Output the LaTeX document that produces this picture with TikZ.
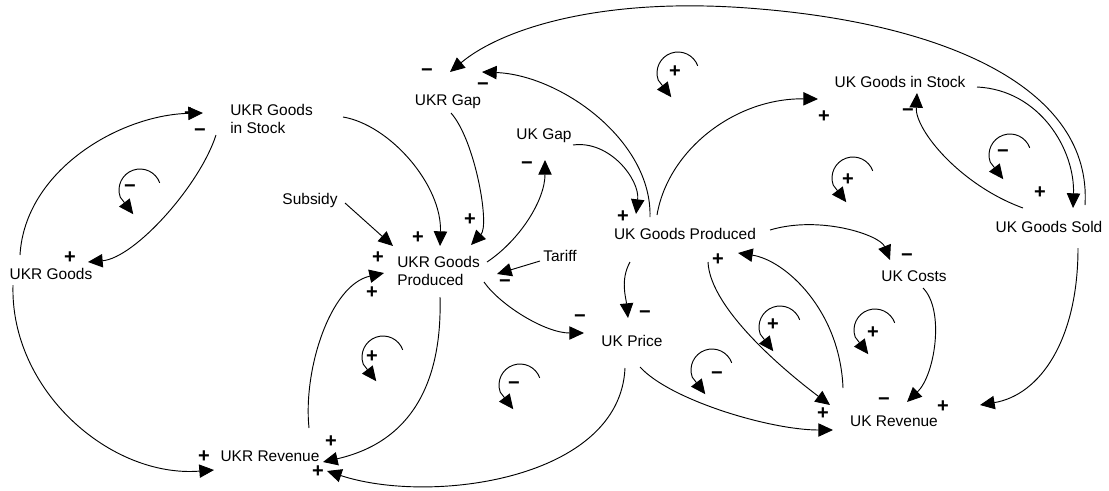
\documentclass[tikz,border=0pt]{standalone}
\usepackage{fontspec}
\setmainfont{Liberation Sans}
\usetikzlibrary{arrows.meta}
\tikzset{
  var/.style={font=\fontsize{11.6}{13.1}\selectfont, inner sep=0pt},
  link/.style={line width=0.7pt, -{Triangle[length=11pt,width=10pt]}},
  pol/.style={font=\fontsize{15}{15}\selectfont\bfseries, inner sep=0pt},
}
\begin{document}
\begin{tikzpicture}[x=0.75pt,y=-0.75pt]
  \useasboundingbox (0,0) rectangle (1109,490);
  % variables
  \node[var,anchor=base] (ukrsold) at (51,279) {UKR Goods};
  \node[var,anchor=west,align=left] (ukrstock) at (230,119) {UKR Goods\\in Stock};
  \node[var,anchor=base] (ukrgap) at (448,105) {UKR Gap};
  \node[var,anchor=base] (ukgap) at (544,139) {UK Gap};
  \node[var,anchor=base] (subsidy) at (310,204) {Subsidy};
  \node[var,anchor=west,align=left] (ukrprod) at (397,271) {UKR Goods\\Produced};
  \node[var,anchor=base] (tariff) at (560,261) {Tariff};
  \node[var,anchor=base] (ukprod) at (685,239) {UK Goods Produced};
  \node[var,anchor=base] (ukstock) at (900,87) {UK Goods in Stock};
  \node[var,anchor=base] (uksold) at (1049,232) {UK Goods Sold};
  \node[var,anchor=base] (ukcosts) at (914,281) {UK Costs};
  \node[var,anchor=base] (ukprice) at (632,346) {UK Price};
  \node[var,anchor=base] (ukrev) at (894,426) {UK Revenue};
  \node[var,anchor=base] (ukrrev) at (270,461) {UKR Revenue};
  % link polarities
  \foreach \px/\py/\ps [count=\i] in {190/114/+, 200/133/−, 70/258/+, 204/457/+,
      418/238/+, 470/220/+, 378/258/+, 372/293/+, 505/284/−, 527/166/−,
      580/319/−, 427/73/−, 483/87/−, 623/217/+, 718/260/+, 645/315/−,
      824/117/+, 908/113/−, 1040/193/+, 907/258/−, 884/402/−, 943/407/+,
      823/414/+, 331/442/+, 318/472/+}
    \node[pol] (pol\i) at (\px,\py) {\ps};
  % UKR side
  \draw[link] ([shift={(-31,-24)}]ukrsold.base) .. controls (25,170) and (120,115) .. ([shift={(-27,-6)}]ukrstock.west);
  \draw[link] ([shift={(-14,16)}]ukrstock.west) .. controls (200,185) and (135,258) .. ([shift={(37,-17)}]ukrsold.base);
  \draw[link] ([shift={(-38,6)}]ukrsold.base) .. controls (10,390) and (110,478) .. ([shift={(-56,9)}]ukrrev.base);
  \draw[link] ([shift={(35,-1)}]subsidy.base) -- ([shift={(-4,-25)}]ukrprod.west);
  \draw[link] ([shift={(113,-2)}]ukrstock.west) .. controls (390,125) and (442,185) .. ([shift={(43,-25)}]ukrprod.west);
  \draw[link] ([shift={(3,8)}]ukrgap.base) .. controls (475,140) and (490,225) .. ([shift={(74,-26)}]ukrprod.west);
  \draw[link] ([shift={(90,-9)}]ukrprod.west) .. controls (520,240) and (545,200) .. ([shift={(1,21)}]ukgap.base);
  \draw[link] ([shift={(-20,0)}]tariff.base) -- ([shift={(100,3)}]ukrprod.west);
  \draw[link] ([shift={(87,11)}]ukrprod.west) .. controls (500,305) and (545,333) .. ([shift={(-48,-13)}]ukprice.base);
  \draw[link] ([shift={(43,26)}]ukrprod.west) .. controls (442,370) and (420,440) .. ([shift={(53,1)}]ukrrev.base);
  \draw[link] ([shift={(-7,22)}]ukprice.base) .. controls (620,480) and (430,505) .. ([shift={(57,10)}]ukrrev.base);
  \draw[link] ([shift={(39,-33)}]ukrrev.base) .. controls (303,370) and (330,285) .. ([shift={(-13,2)}]ukrprod.west);
  % back to UKR Gap
  \draw[link] ([shift={(-35,-22)}]ukprod.base) .. controls (652,140) and (560,75) .. ([shift={(34,-33)}]ukrgap.base);
  \draw[link] ([shift={(36,-27)}]uksold.base) .. controls (1092,90) and (950,25) .. (760,9)
    .. controls (600,-5) and (500,30) .. ([shift={(2,-33)}]ukrgap.base);
  % UK side
  \draw[link] ([shift={(29,6)}]ukgap.base) .. controls (610,140) and (640,180) .. ([shift={(-49,-25)}]ukprod.base);
  \draw[link] ([shift={(-28,-24)}]ukprod.base) .. controls (668,150) and (735,98) .. ([shift={(-82,12)}]ukstock.base);
  \draw[link] ([shift={(77,0)}]ukstock.base) .. controls (1040,90) and (1075,150) .. ([shift={(24,-24)}]uksold.base);
  \draw[link] ([shift={(-26,-24)}]uksold.base) .. controls (960,185) and (915,130) .. ([shift={(17,6)}]ukstock.base);
  \draw[link] ([shift={(85,-9)}]ukprod.base) .. controls (820,215) and (880,235) .. ([shift={(-24,-21)}]ukcosts.base);
  \draw[link] ([shift={(9,7)}]ukcosts.base) .. controls (945,310) and (935,375) .. ([shift={(13,-24)}]ukrev.base);
  \draw[link] ([shift={(29,16)}]uksold.base) .. controls (1078,340) and (1040,395) .. ([shift={(86,-21)}]ukrev.base);
  \draw[link] ([shift={(23,23)}]ukprod.base) .. controls (710,310) and (790,375) .. ([shift={(-64,-21)}]ukrev.base);
  \draw[link] ([shift={(-51,-38)}]ukrev.base) .. controls (840,310) and (785,260) .. ([shift={(53,14)}]ukprod.base);
  \draw[link] ([shift={(8,21)}]ukprice.base) .. controls (670,400) and (770,430) .. ([shift={(-61,4)}]ukrev.base);
  \draw[link] ([shift={(-55,23)}]ukprod.base) .. controls (620,280) and (626,298) .. ([shift={(-4,-28)}]ukprice.base);
  % loop markers
  \foreach \cx/\cy/\sx/\sy/\sg [count=\i] in {140/190/130/189/−, 383/357/372/357/+,
      520/385/514/386/−, 712/370/717/376/−, 780/327/773/325/+, 875/330/873/333/+,
      678/73/675/72/+, 853/178/848/180/+, 1010/155/1003/154/−}
  {
    \draw[link] (\cx,\cy) ++(-20:21) arc[start angle=-20,end angle=-200,radius=21] -- ++(13,17);
    \node[pol] (loop\i) at (\sx,\sy) {\sg};
  }
\end{tikzpicture}
\end{document}
